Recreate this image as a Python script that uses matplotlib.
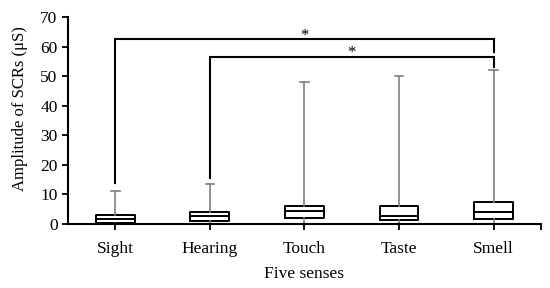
import matplotlib
matplotlib.use("Agg")
import matplotlib.pyplot as plt

senses = ["Sight", "Hearing", "Touch", "Taste", "Smell"]
whisker_low = [0.0, 0.0, 0.0, 0.0, 0.0]
q1 = [0.2, 1.0, 2.0, 1.25, 1.6]
median = [1.7, 2.6, 4.3, 2.6, 4.1]
q3 = [3.0, 4.1, 6.2, 6.0, 7.4]
whisker_high = [11.3, 13.4, 48.0, 50.0, 52.2]

# significance brackets: group pair, bar height, where the left and right legs stop
bracket_pairs = [(0, 4), (1, 4)]
bracket_heights = [62.6, 56.6]
bracket_left_ends = [13.8, 15.5]
bracket_right_ends = [58.3, 53.2]

plt.rcParams["font.family"] = ["Liberation Serif", "DejaVu Serif"]

fig = plt.figure(figsize=(5.5, 2.88), dpi=100)
ax = fig.add_axes([0.1236, 0.2222, 0.86, 0.7188])

stats = []
for i, name in enumerate(senses):
    stats.append({
        "label": name,
        "whislo": whisker_low[i],
        "q1": q1[i],
        "med": median[i],
        "q3": q3[i],
        "whishi": whisker_high[i],
        "fliers": [],
    })

ax.bxp(
    stats,
    positions=range(len(senses)),
    widths=0.41,
    showfliers=False,
    boxprops=dict(color="black", linewidth=1.4),
    medianprops=dict(color="black", linewidth=1.4),
    whiskerprops=dict(color="#7f7f7f", linewidth=1.2),
    capprops=dict(color="#7f7f7f", linewidth=1.2),
    capwidths=0.09,
)

for (a, b), h, le, re in zip(bracket_pairs, bracket_heights, bracket_left_ends, bracket_right_ends):
    ax.plot([a, a, b, b], [le, h, h, re], color="black", lw=1.5, solid_joinstyle="miter")
    ax.text((a + b) / 2, h - 1.6, "*", ha="center", va="bottom", fontsize=12)

ax.set_xlim(-0.5, 4.5)
ax.set_ylim(0, 70)
ax.set_yticks(range(0, 71, 10))
ax.set_xticks(range(len(senses)))
ax.set_xticklabels(senses)
ax.set_xticks([4.5], minor=True)
ax.tick_params(axis="both", which="both", direction="out", width=1.3, length=4, labelsize=12.5, colors="black")
ax.tick_params(axis="x", pad=8)
ax.spines["top"].set_visible(False)
ax.spines["right"].set_visible(False)
ax.spines["left"].set_linewidth(1.5)
ax.spines["bottom"].set_linewidth(1.5)

ax.set_xlabel("Five senses", fontsize=12.5, labelpad=7)
ax.set_ylabel("Amplitude of SCRs (μS)", fontsize=12)
ax.yaxis.set_label_coords(-0.084, 0.556)

fig.savefig("out.png", dpi=100)
